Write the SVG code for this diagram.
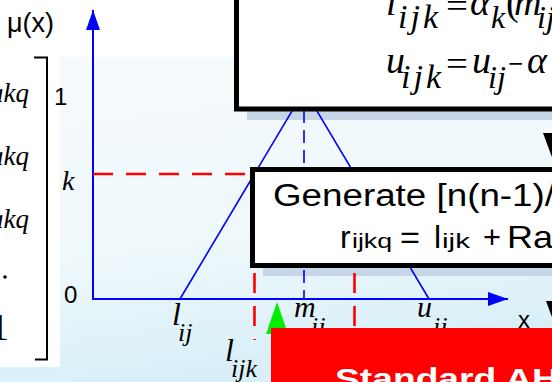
<svg xmlns="http://www.w3.org/2000/svg" width="552" height="382" viewBox="0 0 552 382">
  <defs>
    <linearGradient id="bg" x1="0" y1="0" x2="0.2" y2="1">
      <stop offset="0" stop-color="#f6fafd"/>
      <stop offset="0.6" stop-color="#eff8fb"/>
      <stop offset="1" stop-color="#d8eff8"/>
    </linearGradient>
    <marker id="arrowBlue" viewBox="0 0 20 14" refX="20" refY="7" markerWidth="20" markerHeight="14" markerUnits="userSpaceOnUse" orient="auto">
      <path d="M0,0 L20,7 L0,14 Z" fill="#0000ff"/>
    </marker>
  </defs>
  <style>
    .math { font-family: "Liberation Serif", "Times New Roman", serif; font-style: italic; fill: #000; }
    .op { font-family: "Liberation Serif", "Times New Roman", serif; fill: #000; }
    .sans { font-family: "Liberation Sans", Arial, sans-serif; fill: #000; }
    .axis { stroke: #0000ff; stroke-width: 2; fill: none; }
    .curve { stroke: #0000ff; stroke-width: 1.6; fill: none; }
    .blueDash { stroke: #0000ff; stroke-width: 1.6; stroke-dasharray: 13 7; fill: none; }
    .redDash { stroke: #ff0000; stroke-width: 2.6; stroke-dasharray: 20 13; fill: none; }
    .box { fill: #ffffff; stroke: #000; stroke-width: 5; }
    .shadow { fill: #c6d6e7; }
  </style>

  <!-- slide background -->
  <rect x="0" y="0" width="552" height="382" fill="#ffffff"/>
  <rect x="60" y="57" width="492" height="325" fill="url(#bg)"/>
  <rect x="0" y="367" width="60" height="15" fill="#dbf0f8"/>

  <!-- alpha of the cut level, partly under the matrix panel -->
  <text class="math" x="44" y="190" font-size="28">α</text>

  <!-- matrix panel on the left -->
  <g id="matrix">
    <rect x="0" y="0" width="60" height="367" fill="#ffffff"/>
    <text class="math" x="-10" y="102" font-size="27">akq</text>
    <text class="math" x="-10" y="165" font-size="27">akq</text>
    <text class="math" x="-10" y="228" font-size="27">akq</text>
    <circle cx="5" cy="277" r="1.8" fill="#000"/>
    <text class="op" x="-10" y="340" font-size="38">1</text>
    <path d="M34,57.5 H47 V359.5 H35" fill="none" stroke="#000" stroke-width="2"/>
  </g>

  <!-- box shadows -->
  <rect class="shadow" x="247" y="111" width="320" height="9"/>
  <rect class="shadow" x="263" y="268" width="300" height="8"/>

  <!-- axis labels -->
  <g id="axis-labels">
    <text class="sans" x="7" y="32" font-size="27">μ(x)</text>
    <text class="sans" x="54" y="105" font-size="24">1</text>
    <text class="math" x="62" y="190" font-size="28">k</text>
    <text class="sans" x="64" y="303" font-size="24">0</text>
    <text class="sans" x="518" y="328" font-size="24">x</text>
  </g>

  <!-- membership function -->
  <g id="connectors">
    <line class="axis" x1="93" y1="300" x2="93" y2="10" marker-end="url(#arrowBlue)"/>
    <line class="axis" x1="92" y1="299" x2="508" y2="299" marker-end="url(#arrowBlue)"/>
    <polyline class="curve" points="180,299 304.5,90 429,299"/>
    <line class="blueDash" x1="304" y1="90" x2="304" y2="299"/>
    <line class="redDash" x1="93" y1="174" x2="260" y2="174"/>
    <line class="redDash" x1="254.5" y1="174" x2="254.5" y2="340"/>
    <line class="redDash" x1="354.5" y1="174" x2="354.5" y2="340"/>
    <polygon points="277,302 266,334 288,334" fill="#00ee00"/>
    <polygon points="543,133 575,133 559,176" fill="#000"/>
    <polygon points="546,301 578,301 562,344" fill="#000"/>
  </g>

  <!-- tick labels on x axis -->
  <g id="tick-labels">
    <text class="math" x="172" y="325" font-size="32">l</text>
    <text class="math" x="178" y="341" font-size="26">ij</text>
    <text class="math" x="294" y="317" font-size="30">m</text>
    <text class="math" x="311" y="335" font-size="26">ij</text>
    <text class="math" x="417" y="317" font-size="30">u</text>
    <text class="math" x="433" y="335" font-size="26">ij</text>
    <text class="math" x="225" y="361" font-size="32">l</text>
    <text class="math" x="231" y="377" font-size="26">ijk</text>
  </g>

  <!-- formula box -->
  <g id="formula-box">
    <rect class="box" x="236.5" y="-20" width="340" height="129"/>
    <text class="math" x="386" y="15" font-size="38">l</text>
    <text class="math" x="398" y="28" font-size="34" textLength="40" lengthAdjust="spacing">ijk</text>
    <text class="op" x="446" y="17" font-size="34" textLength="22" lengthAdjust="spacingAndGlyphs">=</text>
    <text class="math" x="470" y="15" font-size="38">α</text>
    <text class="math" x="491" y="28" font-size="32">k</text>
    <text class="op" x="506" y="15" font-size="38">(</text>
    <text class="math" x="514" y="15" font-size="38">m</text>
    <text class="math" x="537" y="28" font-size="32">ij</text>
    <text class="math" x="386" y="73" font-size="38">u</text>
    <text class="math" x="401" y="88" font-size="34" textLength="40" lengthAdjust="spacing">ijk</text>
    <text class="op" x="446" y="75" font-size="34" textLength="22" lengthAdjust="spacingAndGlyphs">=</text>
    <text class="math" x="472" y="73" font-size="38">u</text>
    <text class="math" x="488" y="88" font-size="32">ij</text>
    <text class="op" x="508" y="75" font-size="34" textLength="15" lengthAdjust="spacingAndGlyphs">−</text>
    <text class="math" x="527" y="73" font-size="38">α</text>
  </g>

  <!-- random generation step -->
  <g id="generate-box">
    <rect class="box" x="252.5" y="169.5" width="330" height="96"/>
    <text class="sans" x="273" y="206" font-size="31" textLength="282" lengthAdjust="spacingAndGlyphs">Generate [n(n-1)/</text>
    <text class="sans" x="340" y="248" font-size="32">r</text>
    <text class="sans" x="352" y="248" font-size="20" textLength="40" lengthAdjust="spacingAndGlyphs">ijkq</text>
    <text class="sans" x="400" y="248" font-size="32" textLength="20" lengthAdjust="spacingAndGlyphs">=</text>
    <text class="sans" x="434" y="248" font-size="32">l</text>
    <text class="sans" x="442" y="248" font-size="20" textLength="28" lengthAdjust="spacingAndGlyphs">ijk</text>
    <text class="sans" x="483" y="248" font-size="32" textLength="18" lengthAdjust="spacingAndGlyphs">+</text>
    <text class="sans" x="507" y="248" font-size="32" textLength="46" lengthAdjust="spacingAndGlyphs">Ra</text>
  </g>

  <!-- standard AHP step -->
  <g id="ahp-box">
    <rect x="271" y="328" width="300" height="60" fill="#ff0000"/>
    <text x="335" y="389" font-family="Liberation Sans, Arial, sans-serif" font-weight="bold" font-size="30" fill="#ffffff" textLength="224" lengthAdjust="spacingAndGlyphs">Standard AH</text>
  </g>
</svg>
